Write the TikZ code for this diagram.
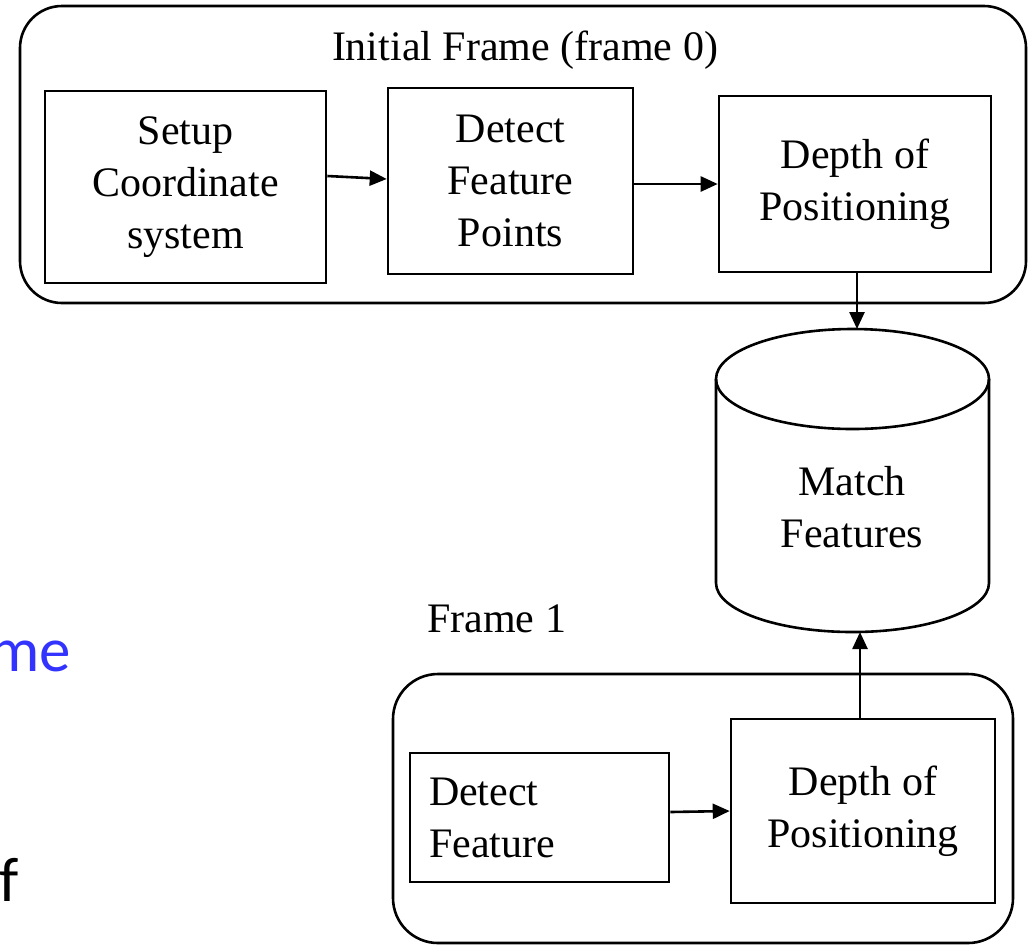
\documentclass[tikz,border=0pt]{standalone}
\usepackage{fontspec}
\setmainfont{Liberation Serif}
\newfontfamily\calib{Carlito}
\usetikzlibrary{arrows.meta}
\definecolor{mblue}{RGB}{51,51,255}
\begin{document}
\begin{tikzpicture}[x=1pt,y=-1pt,
  lw/.style={line width=2.6pt},
  procbox/.style={draw, lw, align=center, inner sep=0pt, font=\fontsize{42}{52}\selectfont},
  frameround/.style={draw, lw},
  arr/.style={lw, -{Triangle[length=17pt,width=15pt]}},
  lbl/.style={inner sep=0pt, font=\fontsize{42}{52}\selectfont},
  sidetext/.style={inner sep=0pt, font=\calib\fontsize{63}{70}\selectfont},
]
\useasboundingbox (0,0) rectangle (1032,946);
% containers
\node[frameround, rounded corners=42pt, minimum width=1006pt, minimum height=297pt] (f0) at (523,154.5) {};
\node[frameround, rounded corners=45pt, minimum width=620pt, minimum height=269pt] (f1) at (703,808.5) {};
% titles
\node[lbl, anchor=base] (t0) at (525,60) {Initial Frame (frame 0)};
\node[lbl, anchor=base west] (t1) at (427,632) {Frame 1};
% boxes
\node[procbox, minimum width=281pt, minimum height=192pt] (b1) at (185.5,187) {Setup\\Coordinate\\system};
\node[procbox, minimum width=245pt, minimum height=186pt] (b2) at (510.5,181) {Detect\\Feature\\Points};
\node[procbox, minimum width=272pt, minimum height=176pt] (b3) at (855,184) {Depth of\\Positioning};
\node[procbox, align=left, text width=221pt, inner xsep=19pt, minimum height=129pt] (b4) at (539.5,817.5) {Detect\\Feature};
\node[procbox, minimum width=264pt, minimum height=184pt] (b5) at (863,811) {Depth of\\Positioning};
% cylinder
\draw[lw] (852.5,379) ellipse[x radius=136.5pt, y radius=50pt];
\draw[lw] (716,379) -- (716,583) arc[start angle=180, end angle=360, x radius=136.5pt, y radius=49pt] -- (989,379);
\node[lbl, align=center] (cyl) at (852,507) {Match\\Features};
\coordinate (cyltop) at (857,329);
\coordinate (cylbot) at (860,632);
% arrows
\draw[arr] ([yshift=11pt]b1.east) -- ([yshift=2pt]b2.west);
\draw[arr] ([yshift=-3pt]b2.east) -- (b3.west);
\draw[arr] ([xshift=2pt]b3.south) -- (cyltop);
\draw[arr] ([yshift=5.5pt]b4.east) -- (b5.west);
\draw[arr] ([xshift=-3pt]b5.north) -- (cylbot);
% cut-off side text
\node[sidetext, anchor=base east, text=mblue] (me) at (71,671) {me};
\node[sidetext, anchor=base west] (ff) at (-1,901) {f};
\end{tikzpicture}
\end{document}
